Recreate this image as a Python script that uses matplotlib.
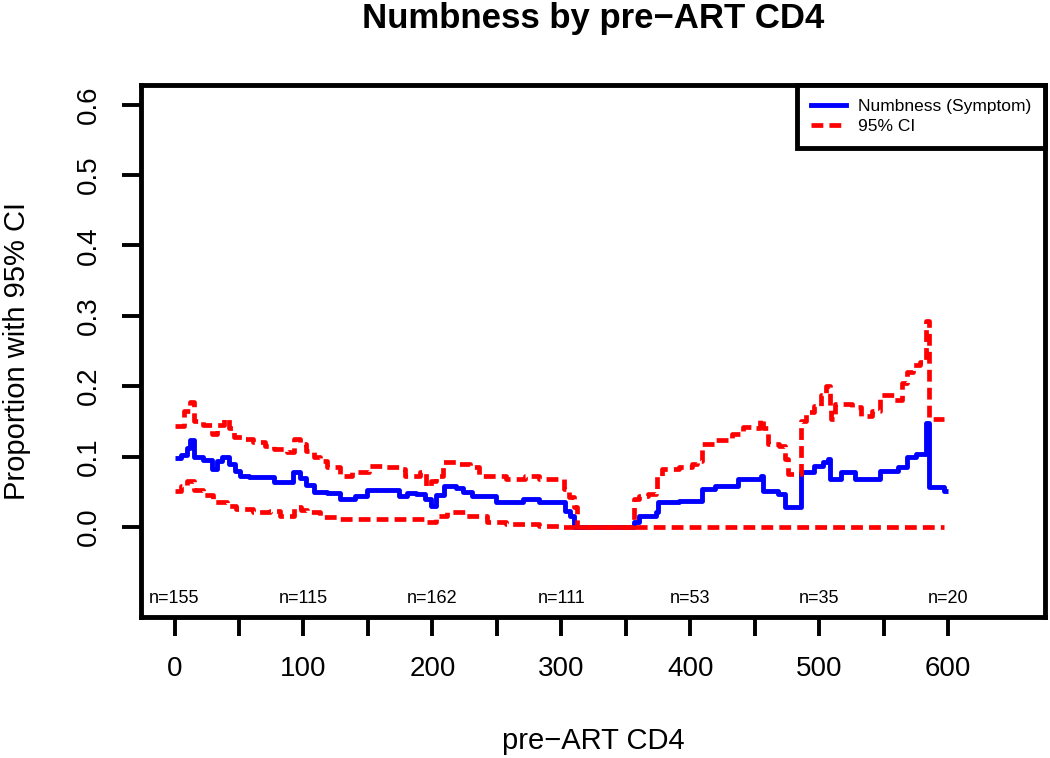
import matplotlib
matplotlib.use("Agg")
import matplotlib.pyplot as plt
from matplotlib.lines import Line2D

plt.rcParams['font.family'] = ['Liberation Sans', 'DejaVu Sans']

# ---- data ----
est_x = [0, 5, 10, 12, 15, 22, 29, 33, 37, 42, 47, 51, 58, 77, 88, 92, 97, 102, 108, 118,
         128, 140, 149, 165, 174, 180, 187, 194, 199, 203, 209, 218, 224, 231, 249, 270, 283,
         303, 307, 310, 356, 360, 373, 375, 391, 409, 419, 437, 455, 456, 468, 473, 486, 496,
         503, 507, 508, 517, 528, 547, 561, 568, 575, 583, 585, 597, 600]
est_y = [0.098, 0.102, 0.112, 0.123, 0.100, 0.095, 0.083, 0.093, 0.100, 0.090, 0.080, 0.073,
         0.071, 0.064, 0.064, 0.078, 0.070, 0.060, 0.050, 0.048, 0.040, 0.044, 0.052, 0.052,
         0.044, 0.048, 0.047, 0.040, 0.030, 0.045, 0.058, 0.055, 0.050, 0.044, 0.035, 0.040,
         0.035, 0.023, 0.016, 0.000, 0.007, 0.016, 0.021, 0.035, 0.037, 0.054, 0.058, 0.068,
         0.073, 0.051, 0.047, 0.028, 0.078, 0.087, 0.092, 0.097, 0.068, 0.078, 0.068, 0.080,
         0.085, 0.100, 0.104, 0.147, 0.057, 0.051, 0.051]

upper_x = [0, 7, 12, 15, 22, 29, 33, 38, 42, 46, 53, 61, 70, 77, 87, 93, 97, 102, 108, 113,
           118, 128, 138, 151, 161, 174, 179, 190, 195, 199, 203, 208, 218, 229, 236, 257,
           272, 283, 302, 306, 310, 312, 356, 360, 367, 373, 374, 378, 391, 401, 405, 409,
           419, 432, 441, 450, 454, 456, 460, 469, 473, 476, 486, 490, 496, 501, 505, 508,
           509, 512, 520, 525, 532, 541, 547, 558, 564, 568, 573, 578, 583, 585, 597]
upper_y = [0.144, 0.165, 0.178, 0.151, 0.145, 0.132, 0.145, 0.154, 0.140, 0.128, 0.125,
           0.121, 0.115, 0.111, 0.107, 0.125, 0.118, 0.108, 0.100, 0.093, 0.085, 0.073,
           0.078, 0.087, 0.085, 0.083, 0.073, 0.078, 0.058, 0.065, 0.073, 0.092, 0.090,
           0.085, 0.073, 0.068, 0.073, 0.068, 0.054, 0.043, 0.028, 0.000, 0.040, 0.044,
           0.047, 0.050, 0.073, 0.083, 0.085, 0.090, 0.094, 0.118, 0.123, 0.132, 0.142,
           0.140, 0.154, 0.140, 0.118, 0.115, 0.097, 0.075, 0.150, 0.164, 0.172, 0.187,
           0.200, 0.172, 0.154, 0.175, 0.175, 0.171, 0.158, 0.165, 0.187, 0.180, 0.204,
           0.220, 0.230, 0.235, 0.292, 0.154, 0.154]

lower_x = [0, 5, 10, 15, 22, 30, 41, 48, 61, 74, 82, 93, 98, 103, 113, 128, 194, 203, 211,
           226, 242, 257, 283, 300, 597]
lower_y = [0.051, 0.058, 0.065, 0.052, 0.045, 0.035, 0.030, 0.026, 0.021, 0.023, 0.016,
           0.028, 0.024, 0.021, 0.014, 0.011, 0.007, 0.016, 0.021, 0.016, 0.007, 0.004,
           0.002, 0.000, 0.000]

n_pos = [0, 100, 200, 300, 400, 500, 600]
n_labels = ["n=155", "n=115", "n=162", "n=111", "n=53", "n=35", "n=20"]

x_ticks = [0, 50, 100, 150, 200, 250, 300, 350, 400, 450, 500, 550, 600]
y_ticks = [0.0, 0.1, 0.2, 0.3, 0.4, 0.5, 0.6]

# ---- figure ----
fig = plt.figure(figsize=(10.5, 7.58), dpi=100)
ax = fig.add_axes([141/1050, 1 - 617/758, (1045-141)/1050, (617-85)/758])

blue = '#0000ff'
red = '#ff0000'
dash = (0, (2.5, 1.3))

ax.step(est_x, est_y, where='post', color=blue, lw=3.5, solid_capstyle='butt', zorder=2)
ax.step(upper_x, upper_y, where='post', color=red, lw=3.4, linestyle=dash, zorder=3)
ax.step(lower_x, lower_y, where='post', color=red, lw=3.4, linestyle=dash, zorder=3)

for xp, lab in zip(n_pos, n_labels):
    ax.text(xp, -0.1024, lab, ha='center', va='center', fontsize=13)

ax.set_xlim(-26, 675)
ax.set_ylim(-0.128, 0.628)

ax.set_xticks(x_ticks)
ax.set_xticklabels([str(t) if t % 100 == 0 else '' for t in x_ticks], fontsize=20)
ax.set_yticks(y_ticks)
ax.set_yticklabels([f"{t:.1f}" for t in y_ticks], fontsize=20, rotation=90, va='center')
ax.tick_params(axis='both', direction='out', length=14, width=2.8)
ax.tick_params(axis='x', pad=14)
ax.tick_params(axis='y', pad=14)

for s in ax.spines.values():
    s.set_linewidth(3.5)

ax.set_xlabel("pre\u2212ART CD4", fontsize=21, va='baseline')
ax.xaxis.set_label_coords(0.5, -0.248)
ax.set_ylabel("Proportion with 95% CI", fontsize=21, va='center')
ax.yaxis.set_label_coords(-0.137, 0.5)

ax.set_title("Numbness by pre\u2212ART CD4", fontsize=25, fontweight='bold',
             x=0.5, y=1.107, pad=0)

handles = [Line2D([], [], color=blue, lw=3.5),
           Line2D([], [], color=red, lw=3.4, linestyle=dash)]
leg = ax.legend(handles, ["Numbness (Symptom)", "95% CI"], loc='upper right',
                borderaxespad=0, fancybox=False, framealpha=1, fontsize=12.5,
                handlelength=2.0, handletextpad=0.7, borderpad=0.8, labelspacing=0.3)
leg.get_frame().set_edgecolor('black')
leg.get_frame().set_linewidth(3.5)

fig.savefig("out.png", dpi=100)
